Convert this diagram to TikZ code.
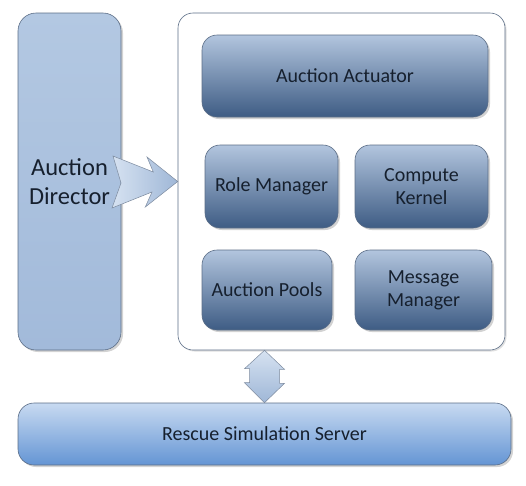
\documentclass[tikz,border=0pt]{standalone}
\usepackage{fontspec}
\setmainfont{Carlito}
\usepackage{tikz}
\usetikzlibrary{shadows}
\usetikzlibrary{positioning}
\usepackage{xcolor}
\definecolor{edgeblue}{HTML}{5C6E87}
\definecolor{textblue}{HTML}{16202E}
\definecolor{boxtop}{HTML}{B2C5DE}
\definecolor{boxbottom}{HTML}{3E5C84}
\definecolor{dirfill}{HTML}{B3C8E2}
\definecolor{dirbottom}{HTML}{A2BADA}
\definecolor{servtop}{HTML}{C8DAF1}
\definecolor{servbottom}{HTML}{6495D4}
\definecolor{arrowlight}{HTML}{D6E2F1}
\definecolor{arrowdark}{HTML}{9FB7D7}

\begin{document}
\begin{tikzpicture}[x=1pt,y=-1pt,
	shade/.style={drop shadow={shadow xshift=2pt,shadow yshift=-2pt,opacity=0.35}},
	module/.style={rectangle,rounded corners=15pt,draw=edgeblue,line width=0.6pt,
		top color=boxtop,bottom color=boxbottom,text=textblue,font=\fontsize{20}{23}\selectfont,
		align=center,shade},
	blockarrow/.style={draw=edgeblue!80,line width=0.5pt,top color=arrowlight,bottom color=arrowdark}]
	\useasboundingbox (0,0) rectangle (526,485);
	% left and right columns
	\node[rectangle,rounded corners=18pt,draw=edgeblue,line width=0.6pt,top color=dirfill,bottom color=dirbottom,
		minimum width=103pt,minimum height=337pt,text=textblue,font=\fontsize{24.5}{29}\selectfont,
		align=center,shade] (Director) at (69.5,181.5) {Auction\\Director};
	\node[rectangle,rounded corners=15pt,draw=edgeblue,line width=0.6pt,fill=white,
		minimum width=327pt,minimum height=337pt,
		drop shadow={shadow xshift=1.5pt,shadow yshift=-1.5pt,opacity=0.25}] (Container) at (341.5,181.5) {};
	% modules
	\node[module,minimum width=286pt,minimum height=82pt] (Actuator) at (345,76) {Auction Actuator};
	\node[module,minimum width=133pt,minimum height=83pt] (RoleManager) at (271.5,186.5) {Role Manager};
	\node[module,minimum width=133pt,minimum height=83pt] (Kernel) at (421.5,186.5) {Compute\\Kernel};
	\node[module,minimum width=130pt,minimum height=80pt] (Pools) at (267,290) {Auction Pools};
	\node[module,minimum width=137pt,minimum height=80pt] (MessageManager) at (423.5,290) {Message\\Manager};
	% server
	\node[rectangle,rounded corners=16pt,draw=edgeblue,line width=0.6pt,top color=servtop,bottom color=servbottom,
		minimum width=493pt,minimum height=62pt,text=textblue,font=\fontsize{20}{23}\selectfont,
		shade] (Server) at (264.5,434) {Rescue Simulation Server};
	% arrows
	\begin{scope}[shift={(Director.east)}]
		\draw[blockarrow,left color=arrowlight,right color=arrowdark] (-8.3,-25.5) -- (32,-9.5) -- (25.7,-24.5)
			-- (Container.west) -- (24,25.5) -- (30.7,10.5) -- (-9.3,26.5) -- (-0.3,1.5) -- cycle;
	\end{scope}
	\draw[blockarrow] (Container.south -| Server.north) -- ++(20,19) -- ++(-5,0) -- ++(0,14) -- ++(5,0)
		-- (Server.north) -- ++(-20,-20) -- ++(5,0) -- ++(0,-14) -- ++(-5,0) -- cycle;
\end{tikzpicture}
\end{document}
